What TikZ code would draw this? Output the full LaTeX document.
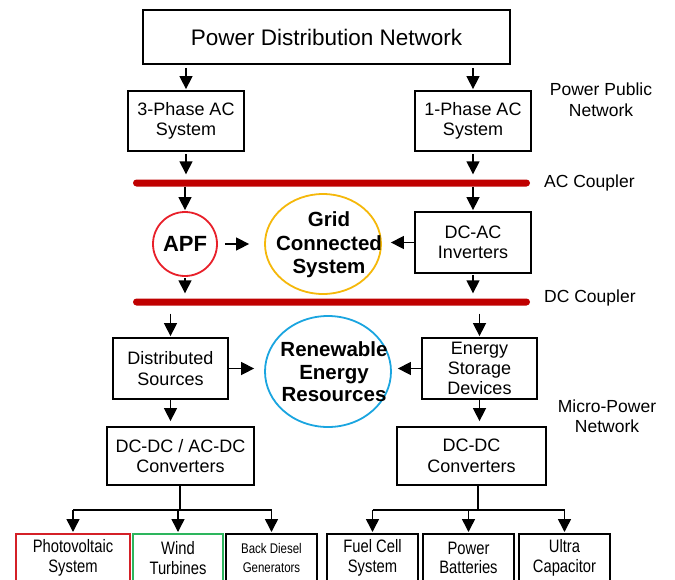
\documentclass[tikz,border=0pt]{standalone}
\usepackage{fontspec}
\setmainfont{Liberation Sans}
\newfontfamily\narrowfont[FakeStretch=0.82]{Liberation Sans}
\usetikzlibrary{arrows.meta,shapes.geometric}
\definecolor{busred}{HTML}{C00000}
\definecolor{apfred}{HTML}{E8202A}
\definecolor{gridgold}{HTML}{F5B80A}
\definecolor{renblue}{HTML}{1AA5E0}
\definecolor{windgreen}{HTML}{2DB55D}
\definecolor{pvred}{HTML}{D42027}
\begin{document}
\begin{tikzpicture}[x=1pt,y=-1pt,
  box/.style={draw,line width=1.8pt,inner sep=0pt,align=center,font=\fontsize{18}{20.5}\selectfont},
  bbox/.style={draw,line width=1.8pt,inner sep=0pt,minimum width=#1,minimum height=60pt,anchor=north},
  btext/.style={inner sep=0pt,align=center,font=\narrowfont\fontsize{18}{19.5}\selectfont},
  bus/.style={fill=busred,rounded corners=3.5pt,minimum width=397pt,minimum height=7pt,inner sep=0pt},
  lbl/.style={inner sep=0pt,align=center,font=\fontsize{17.5}{20.5}\selectfont},
  ell/.style={ellipse,line width=1.8pt,inner sep=0pt},
  boldtxt/.style={inner sep=0pt,align=center,font=\fontsize{20.5}{23}\selectfont\bfseries},
  arr/.style={line width=1.5pt,-{Triangle[width=13pt,length=13pt]}},
  ln/.style={line width=1.5pt}]
\useasboundingbox (0,0) rectangle (675,579);
\clip (0,0) rectangle (675,579);
\fill[white] (0,0) rectangle (675,579);

% top
\node[box,minimum width=367pt,minimum height=54pt,font=\fontsize{22.5}{26}\selectfont] (pdn) at (326.5,37) {Power Distribution Network};
\node[box,minimum width=116pt,minimum height=60pt] (ph3) at (186,121) {3-Phase AC\\System};
\node[box,minimum width=116pt,minimum height=60pt] (ph1) at (473,121) {1-Phase AC\\System};
\node[lbl] (ppn) at (601,99.5) {Power Public\\Network};

\draw[arr,shorten <=3pt,shorten >=1pt] (pdn.south -| ph3.north) -- (ph3.north);
\draw[arr,shorten <=3pt,shorten >=1pt] (pdn.south -| ph1.north) -- (ph1.north);

% AC coupler
\node[bus] (acbus) at (331.5,183) {};
\node[lbl,anchor=west] (aclbl) at (544,183) {AC Coupler};
\draw[arr,shorten <=2pt,shorten >=5pt] (ph3.south) -- (ph3.south |- acbus.north);
\draw[arr,shorten <=2pt,shorten >=5pt] (ph1.south) -- (ph1.south |- acbus.north);

% middle row
\node[circle,draw=apfred,line width=1.8pt,minimum size=64pt,inner sep=0pt,font=\fontsize{22}{24}\selectfont\bfseries] (apf) at (185,244) {APF};
\node[ell,draw=gridgold,minimum width=116pt,minimum height=100pt] (grid) at (323,244) {};
\node[boldtxt,font=\fontsize{20.5}{23.5}\selectfont\bfseries] (gridt) at (329,245) {Grid\\Connected\\System};
\node[box,minimum width=116pt,minimum height=61pt] (dcac) at (473,242.5) {DC-AC\\Inverters};

\draw[arr,shorten >=1pt] (acbus.south -| apf.north) -- (apf.north);
\draw[arr,shorten >=1pt] (acbus.south -| dcac.north) -- (dcac.north);
\draw[arr,shorten <=7pt,shorten >=15pt] (apf.east) -- (apf.east -| grid.west);
\draw[arr,shorten >=9pt] (dcac.west) -- (dcac.west -| grid.east);

% DC coupler
\node[bus] (dcbus) at (331.5,302) {};
\node[lbl,anchor=west] (dclbl) at (544,298) {DC Coupler};
\draw[arr,shorten <=1pt,shorten >=5pt] (apf.south) -- (apf.south |- dcbus.north);
\draw[arr,shorten <=1pt,shorten >=5pt] (dcac.south) -- (dcac.south |- dcbus.north);

% lower row
\node[box,minimum width=115pt,minimum height=61pt] (ds) at (170.5,368.5) {Distributed\\Sources};
\node[ell,draw=renblue,minimum width=126pt,minimum height=111pt] (ren) at (328,371.5) {};
\node[boldtxt,font=\fontsize{20.5}{22.5}\selectfont\bfseries] (rent) at (334,372) {Renewable\\Energy\\Resources};
\node[box,minimum width=115pt,minimum height=61pt,font=\fontsize{18}{20}\selectfont] (esd) at (479.5,368.5) {Energy\\Storage\\Devices};
\node[lbl] (mpn) at (607,416) {Micro-Power\\Network};

\draw[arr,shorten <=8pt,shorten >=1pt] (dcbus.south -| ds.north) -- (ds.north);
\draw[arr,shorten <=8pt,shorten >=1pt] (dcbus.south -| esd.north) -- (esd.north);
\draw[arr,shorten >=10pt] (ds.east) -- (ds.east -| ren.west);
\draw[arr,shorten >=6pt] (esd.west) -- (esd.west -| ren.east);

\node[box,minimum width=147pt,minimum height=58pt] (conv1) at (180.5,456) {DC-DC / AC-DC\\Converters};
\node[box,minimum width=149pt,minimum height=58pt] (conv2) at (471.5,456) {DC-DC\\Converters};
\draw[arr,shorten >=5pt] (ds.south) -- (ds.south |- conv1.north);
\draw[arr,shorten >=5pt] (esd.south) -- (esd.south |- conv2.north);

% bottom boxes
\node[bbox=114pt,draw=pvred] (pv) at (73,533) {};
\node[bbox=90pt,draw=windgreen] (wt) at (178,533) {};
\node[bbox=91pt] (bdg) at (271.5,533) {};
\node[bbox=91pt] (fc) at (372.5,533) {};
\node[bbox=91pt] (pb) at (468.5,533) {};
\node[bbox=91pt] (uc) at (564.5,533) {};

\node[btext] (pvt) at (73,558) {Photovoltaic\\System};
\node[btext] (wtt) at (178,558) {Wind\\Turbines};
\node[btext,font=\narrowfont\fontsize{14}{19.5}\selectfont] (bdgt) at (271.5,558) {Back Diesel\\Generators};
\node[btext] (fct) at (372.5,558) {Fuel Cell\\System};
\node[btext] (pbt) at (468.5,558) {Power\\Batteries};
\node[btext] (uct) at (564.5,558) {Ultra\\Capacitor};

\coordinate (j1) at (180,510);
\coordinate (j2) at (478,510);
\draw[ln] (conv1.south -| j1) -- (j1);
\draw[ln] (conv2.south -| j2) -- (j2);
\draw[ln] (pv.north |- j1) -- (bdg.north |- j1);
\draw[ln] (fc.north |- j2) -- (uc.north |- j2);
\foreach \b in {pv,wt,bdg}{\draw[arr,shorten >=1pt] (\b.north |- j1) -- (\b.north);}
\foreach \b in {fc,pb,uc}{\draw[arr,shorten >=1pt] (\b.north |- j2) -- (\b.north);}
\end{tikzpicture}
\end{document}
